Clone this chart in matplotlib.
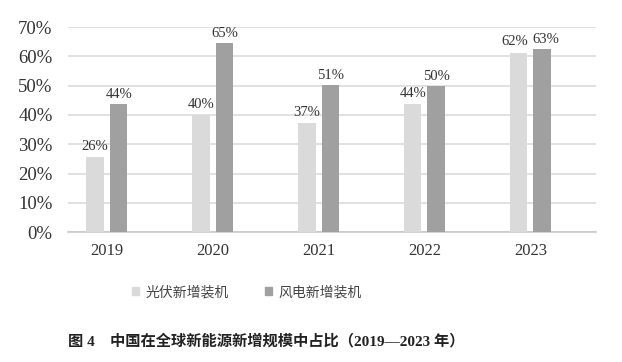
import numpy as np
import matplotlib.pyplot as plt
from matplotlib.patches import Patch

years = ["2019", "2020", "2021", "2022", "2023"]
pv_share = [25.5, 40.0, 37.3, 43.6, 61.3]
wind_share = [43.7, 64.6, 50.4, 49.9, 62.7]
pv_labels = ["26%", "40%", "37%", "44%", "62%"]
wind_labels = ["44%", "65%", "51%", "50%", "63%"]
series_names = ["光伏新增装机", "风电新增装机"]
title = "图 4\u3000中国在全球新能源新增规模中占比（2019—2023 年）"

serif = ["Liberation Serif", "Noto Sans CJK SC"]
cjk = ["Noto Sans CJK SC", "DejaVu Sans"]
light = "#dadada"
dark = "#a0a0a0"

fig = plt.figure(figsize=(6.22, 3.62), dpi=100)
ax = fig.add_axes([0.109, 0.359, 0.849, 0.566])

x = np.arange(len(years))
w = 0.165
off = 0.111
ax.bar(x - off, pv_share, w, color=light, zorder=3)
ax.bar(x + off, wind_share, w, color=dark, zorder=3)

# the last pair of labels sit side by side, nudge them apart
for i in range(len(years)):
    nudge = 2.5 if i == len(years) - 1 else 0
    ax.annotate(pv_labels[i], (x[i] - off, pv_share[i]), xytext=(-nudge, 3),
                textcoords="offset points", ha="center", va="bottom",
                family=serif, fontsize=10.5, color="#333333")
    ax.annotate(wind_labels[i], (x[i] + off, wind_share[i]), xytext=(nudge, 2),
                textcoords="offset points", ha="center", va="bottom",
                family=serif, fontsize=10.5, color="#333333")

ax.set_ylim(0, 70)
ax.set_xlim(-0.37, 4.62)
ax.set_yticks(np.arange(0, 71, 10))
ax.set_yticklabels([f"{v}%" for v in range(0, 71, 10)], family=serif, fontsize=13.5, color="#333333")
ax.set_xticks(x)
ax.set_xticklabels(years, family=serif, fontsize=12, color="#333333")
ax.tick_params(axis="y", length=0, pad=11)
ax.tick_params(axis="x", length=0, pad=8)
ax.grid(axis="y", color="#dcdcdc", linewidth=1.2, zorder=0)
for s in ["top", "right", "left"]:
    ax.spines[s].set_visible(False)
ax.spines["bottom"].set_color("#c8c8c8")
ax.spines["bottom"].set_linewidth(1.2)

handles = [Patch(color=light), Patch(color=dark)]
fig.legend(handles, series_names, loc="center", bbox_to_anchor=(0.397, 0.193), ncol=2,
           frameon=False, prop={"family": cjk, "size": 10}, handlelength=0.5, handleheight=0.5,
           handletextpad=0.5, columnspacing=2.6, labelcolor="#444444")

fig.text(0.11, 0.058, title, family=serif, fontsize=11, fontweight="bold",
         ha="left", va="center", color="#222222")

fig.savefig("out.png", dpi=100)
